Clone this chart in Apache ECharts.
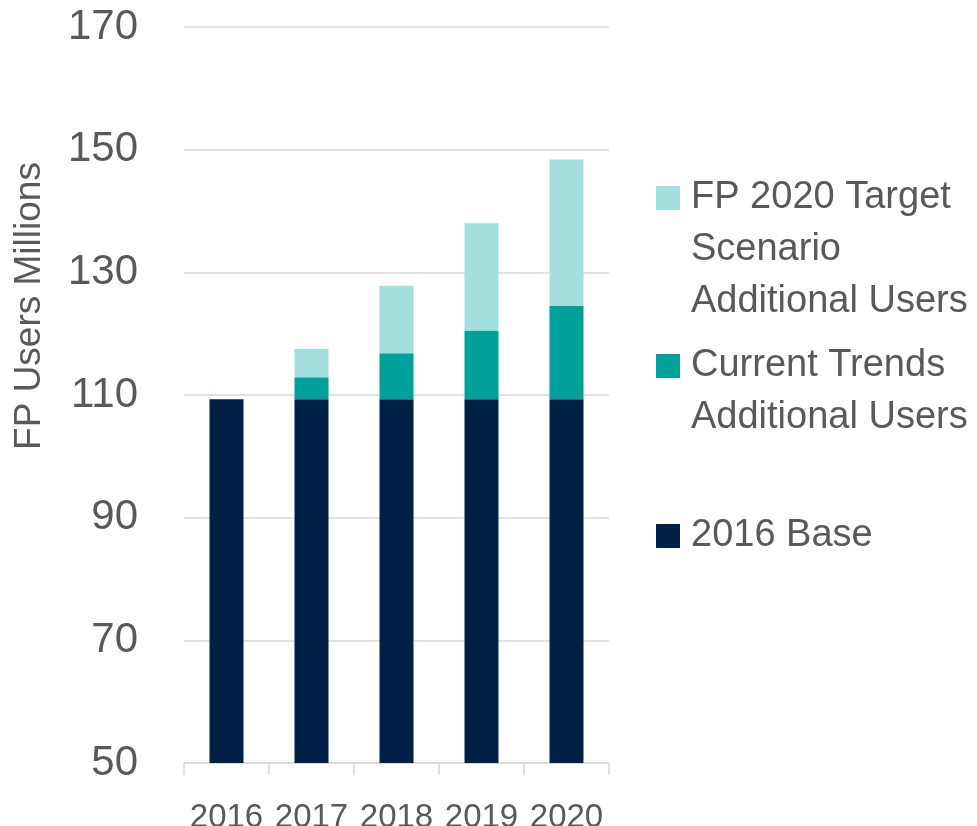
<!DOCTYPE html>
<html>
<head>
<meta charset="utf-8">
<script src="https://cdn.jsdelivr.net/npm/echarts@6/dist/echarts.min.js"></script>
<style>
html,body{margin:0;padding:0;background:#fff;}
#chart{width:977px;height:826px;}
</style>
</head>
<body>
<div id="chart"></div>
<script>
const years = ['2016', '2017', '2018', '2019', '2020'];
const baseUsers = [109.3, 109.3, 109.3, 109.3, 109.3];
const currentTrendsAdd = [0, 3.6, 7.5, 11.2, 15.2];
const targetScenarioAdd = [0, 4.6, 11.0, 17.5, 23.9];
const yTicks = [50, 70, 90, 110, 130, 150, 170];

const FONT = '"Liberation Sans", Arial, sans-serif';
const TXT = '#595959';
const C_BASE = '#002145';
const C_CUR = '#00A19B';
const C_TGT = '#A3DFDD';

const chart = echarts.init(document.getElementById('chart'), null, {renderer: 'canvas'});

function legendBlock(name, top) {
  return {
    data: [{name: name, icon: 'rect'}],
    orient: 'vertical',
    left: 656,
    top: top,
    padding: 0,
    itemWidth: 24,
    itemHeight: 24,
    selectedMode: false,
    formatter: function (n) {
      if (n === 'FP 2020 Target Scenario Additional Users') return '\n\nFP 2020 Target\nScenario\nAdditional Users';
      if (n === 'Current Trends Additional Users') return '\nCurrent Trends\nAdditional Users';
      return n;
    },
    textStyle: {fontFamily: FONT, fontSize: 38, color: TXT, lineHeight: 52, padding: [0, 0, 0, 6]}
  };
}

chart.setOption({
  animation: false,
  backgroundColor: '#ffffff',
  grid: {left: 184, right: 368, top: 27, bottom: 63, containLabel: false, outerBoundsMode: 'none'},
  legend: [
    legendBlock('FP 2020 Target Scenario Additional Users', 68),
    legendBlock('Current Trends Additional Users', 288),
    legendBlock('2016 Base', 510)
  ],
  graphic: [{
    type: 'text',
    x: 30,
    y: 306,
    rotation: Math.PI / 2,
    style: {
      text: 'FP Users Millions',
      fontFamily: FONT,
      fontSize: 37,
      fill: TXT,
      align: 'center',
      verticalAlign: 'middle'
    }
  }],
  xAxis: {
    type: 'category',
    data: years,
    boundaryGap: true,
    axisLine: {show: true, lineStyle: {color: '#d9d9d9', width: 1.5}},
    axisTick: {show: true, interval: 0, length: 12, lineStyle: {color: '#d9d9d9', width: 1.5}},
    axisLabel: {fontFamily: FONT, fontSize: 33, color: TXT, margin: 38, interval: 0, hideOverlap: false}
  },
  yAxis: {
    type: 'value',
    min: yTicks[0],
    max: yTicks[yTicks.length - 1],
    interval: 20,
    axisLine: {show: false},
    axisTick: {show: false},
    splitLine: {show: true, lineStyle: {color: '#d9d9d9', width: 1.5}},
    axisLabel: {fontFamily: FONT, fontSize: 42, color: TXT, margin: 46}
  },
  series: [
    {
      name: '2016 Base',
      type: 'bar',
      stack: 'users',
      barWidth: 34,
      itemStyle: {color: C_BASE},
      data: baseUsers
    },
    {
      name: 'Current Trends Additional Users',
      type: 'bar',
      stack: 'users',
      barWidth: 34,
      itemStyle: {color: C_CUR},
      data: currentTrendsAdd
    },
    {
      name: 'FP 2020 Target Scenario Additional Users',
      type: 'bar',
      stack: 'users',
      barWidth: 34,
      itemStyle: {color: C_TGT},
      data: targetScenarioAdd
    }
  ]
});
</script>
</body>
</html>
